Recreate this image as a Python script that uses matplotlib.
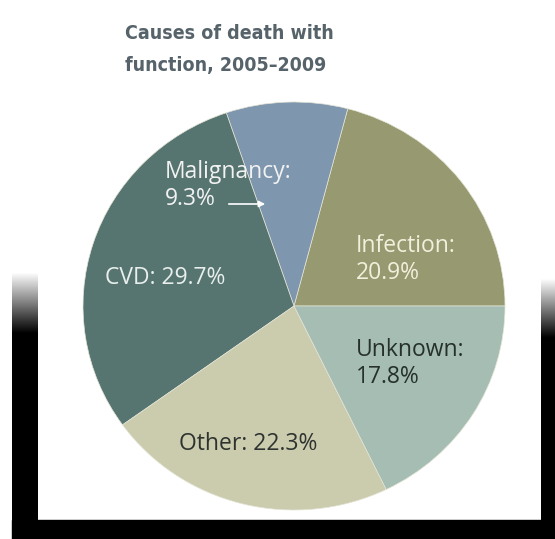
import numpy as np
import matplotlib.pyplot as plt
from matplotlib.patches import Rectangle

# dane
causes = ["Infection", "Malignancy", "CVD", "Other", "Unknown"]
shares = [20.9, 9.3, 29.7, 22.3, 17.8]
colors = ["#979a70", "#7f97ae", "#577570", "#cbcbae", "#a5bdb2"]
text_colors = ["#f2efdc", "#f2f2f2", "#e8efec", "#2e3330", "#26302c"]

W, H = 555, 539
fig = plt.figure(figsize=(W / 100, H / 100), dpi=100)
fig.patch.set_facecolor("white")


def box(x0, y0, x1, y1):
    # piksele obrazka -> ułamki figury
    return [x0 / W, 1 - y1 / H, (x1 - x0) / W, (y1 - y0) / H]


# czarna ramka z gradientem po bokach
bg = fig.add_axes([0, 0, 1, 1], zorder=0)
grad = np.linspace(1, 0, 60).reshape(-1, 1)
grad = np.vstack([grad, np.zeros((200, 1))])
bg.imshow(grad, cmap="gray", vmin=0, vmax=1, aspect="auto",
          extent=(12, 38, 539, 272))
bg.imshow(grad, cmap="gray", vmin=0, vmax=1, aspect="auto",
          extent=(541, 555, 539, 278))
bg.add_patch(Rectangle((12, 520), W - 12, 19, color="black"))
bg.set_xlim(0, W)
bg.set_ylim(H, 0)
bg.axis("off")

# wykres kołowy
ax = fig.add_axes(box(83, 102, 505, 510), zorder=1)
ax.pie(shares, colors=colors, startangle=0, counterclock=True,
       wedgeprops=dict(linewidth=0.5, edgecolor="#e4e4d6"))
ax.set_aspect("auto")
ax.set_xlim(-1, 1)
ax.set_ylim(-1, 1)
ax.axis("off")

# tytuł
title_kw = dict(fontsize=14, fontweight="bold", color="#56636a",
                family="DejaVu Sans", fontstretch="condensed",
                va="baseline")
fig.text(125 / W, 1 - 39 / H, "Causes of death with", **title_kw)
fig.text(125 / W, 1 - 71 / H, "function, 2005\u20132009", **title_kw)

# etykiety: (x, baseline pierwszej linii, czy w dwóch liniach)
label_pos = {
    "Infection": (356, 252, True),
    "Malignancy": (165, 178, True),
    "CVD": (105, 284, False),
    "Other": (179, 450, False),
    "Unknown": (356, 356, True),
}
for name, val, tc in zip(causes, shares, text_colors):
    x, y, two = label_pos[name]
    kw = dict(fontsize=16.5, color=tc, family="Open Sans", va="baseline",
              zorder=3)
    if two:
        fig.text(x / W, 1 - y / H, name + ":", **kw)
        fig.text(x / W, 1 - (y + 27) / H, f"{val}%", **kw)
    else:
        fig.text(x / W, 1 - y / H, f"{name}: {val}%", **kw)

# strzałka przy Malignancy
ax.annotate("", xy=(268, H - 204), xytext=(226, H - 204),
            xycoords="figure pixels", textcoords="figure pixels",
            arrowprops=dict(arrowstyle="-|>", color="white", lw=1.2,
                            mutation_scale=9))

fig.savefig("out.png", dpi=100)
